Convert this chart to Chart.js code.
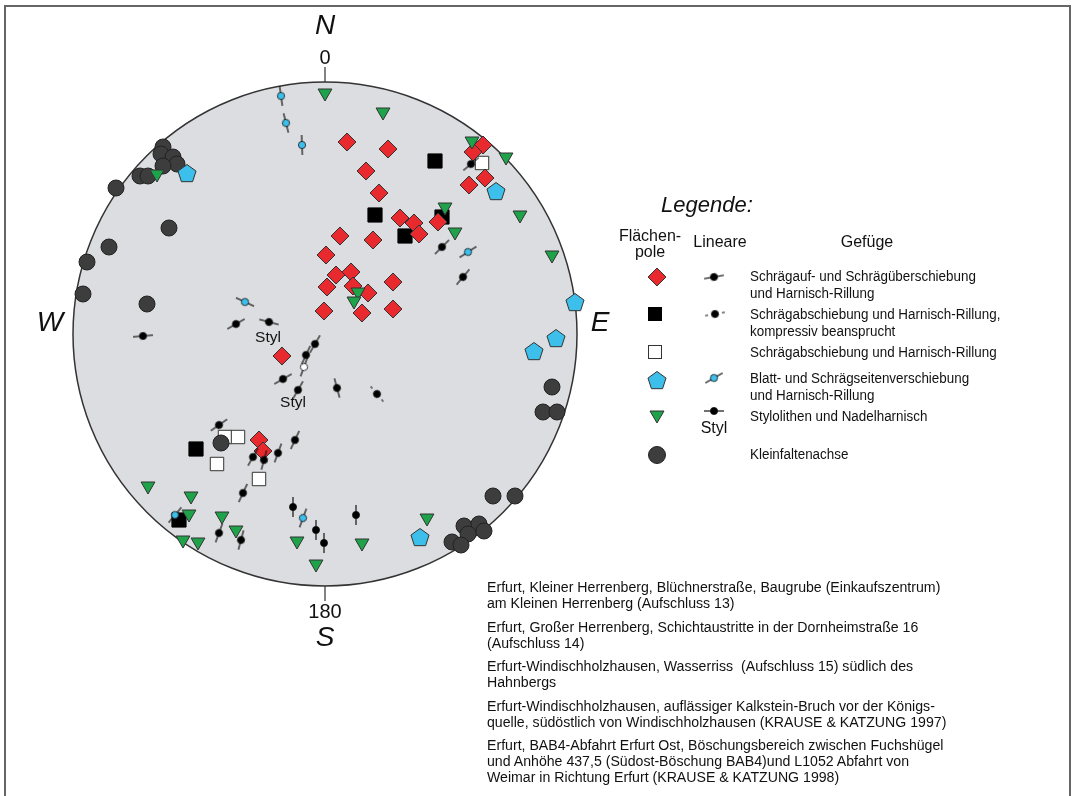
<!DOCTYPE html>
<html>
<head>
<meta charset="utf-8">
<script src="https://cdn.jsdelivr.net/npm/chart.js@4.4.1/dist/chart.umd.min.js"></script>
<style>
  body { margin: 0; background: #fff; font-family: "Liberation Sans", Arial, sans-serif; color: #111; }
  #wrap { position: relative; width: 1072px; height: 796px; overflow: hidden; }
  #net { position: absolute; left: 0; top: 0; }
  #frame { position: absolute; left: 4px; top: 5px; width: 1067px; height: 820px; box-sizing: border-box; border: 2px solid #666; }
  .t { position: absolute; white-space: nowrap; line-height: 1; }
  .c { transform: translate(-50%, -50%); }
  .it { font-style: italic; }
  .lg { position: absolute; white-space: nowrap; font-size: 15.5px; line-height: 16.5px; transform: scaleX(0.865); transform-origin: 0 0; }
  .ds { position: absolute; white-space: nowrap; font-size: 15.5px; line-height: 16px; transform: scaleX(0.912); transform-origin: 0 0; }
</style>
</head>
<body>
<div id="wrap">
  <canvas id="net" width="1072" height="796"></canvas>
  <div id="frame"></div>

  <div class="t c it" style="left:325px;top:25px;font-size:28px">N</div>
  <div class="t c" style="left:325px;top:57px;font-size:20px">0</div>
  <div class="t c" style="left:325px;top:611px;font-size:20px">180</div>
  <div class="t c it" style="left:325px;top:637px;font-size:28px">S</div>
  <div class="t c it" style="left:50px;top:322px;font-size:28px">W</div>
  <div class="t c it" style="left:600px;top:322px;font-size:28px">E</div>
  <div class="t c" style="left:268px;top:337px;font-size:15.5px">Styl</div>
  <div class="t c" style="left:293px;top:402px;font-size:15.5px">Styl</div>

  <div class="t c it" style="left:707px;top:205px;font-size:22px">Legende:</div>
  <div class="t c" style="left:650px;top:236px;font-size:16px">Flächen-</div>
  <div class="t c" style="left:650px;top:252px;font-size:16px">pole</div>
  <div class="t c" style="left:720px;top:242px;font-size:16px">Lineare</div>
  <div class="t c" style="left:867px;top:242px;font-size:16px">Gefüge</div>
  <div class="t c" style="left:714px;top:428px;font-size:16px">Styl</div>

  <div class="lg" style="left:750px;top:268px">Schrägauf- und Schrägüberschiebung<br>und Harnisch-Rillung</div>
  <div class="lg" style="left:750px;top:306px">Schrägabschiebung und Harnisch-Rillung,<br>kompressiv beansprucht</div>
  <div class="lg" style="left:750px;top:344px">Schrägabschiebung und Harnisch-Rillung</div>
  <div class="lg" style="left:750px;top:370px">Blatt- und Schrägseitenverschiebung<br>und Harnisch-Rillung</div>
  <div class="lg" style="left:750px;top:408px">Stylolithen und Nadelharnisch</div>
  <div class="lg" style="left:750px;top:446px">Kleinfaltenachse</div>

  <div class="ds" style="left:487px;top:579px">Erfurt, Kleiner Herrenberg, Blüchnerstraße, Baugrube (Einkaufszentrum)<br>am Kleinen Herrenberg (Aufschluss 13)</div>
  <div class="ds" style="left:487px;top:619px">Erfurt, Großer Herrenberg, Schichtaustritte in der Dornheimstraße 16<br>(Aufschluss 14)</div>
  <div class="ds" style="left:487px;top:658px">Erfurt-Windischholzhausen, Wasserriss&nbsp; (Aufschluss 15) südlich des<br>Hahnbergs</div>
  <div class="ds" style="left:487px;top:698px">Erfurt-Windischholzhausen, auflässiger Kalkstein-Bruch vor der Königs-<br>quelle, südöstlich von Windischholzhausen (KRAUSE &amp; KATZUNG 1997)</div>
  <div class="ds" style="left:487px;top:737px">Erfurt, BAB4-Abfahrt Erfurt Ost, Böschungsbereich zwischen Fuchshügel<br>und Anhöhe 437,5 (Südost-Böschung BAB4)und L1052 Abfahrt von<br>Weimar in Richtung Erfurt (KRAUSE &amp; KATZUNG 1998)</div>
</div>

<script>
// Netzradius in Datenkoordinaten (Mittelpunkt = 0,0; Norden = +y)
const NET_RADIUS = 252;

// Flächenpole [x, y]
const thrustPoles = [[22,192],[63,185],[41,163],[54,141],[75,116],[89,111],[94,100],[113,112],
  [15,98],[48,94],[1,79],[11,59],[26,62],[2,47],[28,48],[43,41],[-1,23],[37,21],[68,52],[68,25],
  [-43,-22],[-66,-106],[-62,-117],[158,189],[148,182],[160,156],[144,149]];
const normalCompPoles = [[110,173],[50,119],[117,117],[80,98],[-129,-115],[-146,-186]];
const normalPoles = [[157,171],[-100,-103],[-87,-103],[-108,-130],[-66,-145]];
const strikeSlipPoles = [[-138,161],[171,143],[250,32],[231,-4],[209,-17],[95,-203]];
const styloPoles = [[0,241],[58,222],[-168,160],[147,193],[181,177],[120,127],[130,102],[195,119],
  [227,79],[33,42],[29,33],[-177,-152],[-134,-162],[-136,-180],[-103,-182],[-89,-196],[-142,-206],
  [-127,-208],[-28,-207],[-9,-230],[37,-209],[102,-184]];
const foldAxes = [[-162,187],[-164,180],[-152,177],[-148,170],[-162,168],[-185,158],[-177,158],
  [-209,146],[-156,106],[-216,87],[-238,72],[-242,40],[-178,30],[-104,-109],[227,-53],[218,-78],
  [232,-78],[168,-162],[190,-162],[139,-192],[154,-190],[159,-197],[143,-200],[127,-208],[136,-211]];

// Lineare [x, y, Richtung in Grad]
const thrustLin = [[-89,10,-30],[-182,-2,-5],[-10,-10,-60],[-19,-21,-65],[-42,-45,-30],[-106,-91,-35],
  [-72,-123,-60],[-61,-126,-75],[-47,-119,-70],[-30,-106,-65],[-82,-159,-65],[-106,-199,-70],
  [-84,-206,-75],[-32,-173,90],[-9,-196,90],[-1,-209,90],[12,-54,75],[31,-181,90],[117,87,-45],
  [138,57,-50],[146,170,-40]];
const normalCompLin = [[52,-60,50]];
const normalLin = [[-21,-33,-70]];
const strikeSlipLin = [[-44,238,82],[-39,211,76],[-23,189,88],[-80,32,25],[143,82,-33],[-150,-181,-50],[-22,-184,-70]];
const styloLin = [[-56,12,15],[-27,-56,-60]];

const RED = '#e8292d', GREEN = '#1fa34a', BLUE = '#3dbfeb', DARK = '#3d3d3d', EDGE = '#333';

function lineationImg(fill, dashed) {
  const c = document.createElement('canvas');
  c.width = 22; c.height = 10;
  const g = c.getContext('2d');
  g.strokeStyle = '#111'; g.lineWidth = 1.2;
  g.beginPath();
  if (dashed) { g.moveTo(1,5); g.lineTo(4,5); g.moveTo(18,5); g.lineTo(21,5); }
  else { g.moveTo(1,5); g.lineTo(21,5); }
  g.stroke();
  g.beginPath(); g.arc(11,5,3.6,0,Math.PI*2);
  g.fillStyle = fill; g.fill(); g.lineWidth = 0.8; g.stroke();
  return c;
}
function pentagonImg() {
  const c = document.createElement('canvas');
  c.width = 22; c.height = 22;
  const g = c.getContext('2d');
  g.beginPath();
  for (let i = 0; i < 5; i++) {
    const a = -Math.PI/2 + i*2*Math.PI/5;
    const px = 11 + 9.5*Math.cos(a), py = 12 + 9.5*Math.sin(a);
    i ? g.lineTo(px,py) : g.moveTo(px,py);
  }
  g.closePath(); g.fillStyle = BLUE; g.fill();
  g.strokeStyle = EDGE; g.lineWidth = 1; g.stroke();
  return c;
}

const linBlack = lineationImg('#000', false);
const linDash = lineationImg('#000', true);
const linBlue = lineationImg(BLUE, false);
const linWhite = lineationImg('#fff', false);
const penta = pentagonImg();

const pts = a => a.map(p => ({x: p[0], y: p[1]}));
const rots = a => a.map(p => p[2]);

function linSet(arr, img) {
  return { data: pts(arr), pointStyle: img, pointRadius: 5, pointRotation: rots(arr) };
}

const netPlugin = {
  id: 'net',
  beforeDatasetsDraw(chart) {
    const {ctx, scales: {x, y}} = chart;
    const cx = x.getPixelForValue(0), cy = y.getPixelForValue(0);
    const r = x.getPixelForValue(NET_RADIUS) - cx;
    ctx.save();
    ctx.beginPath(); ctx.arc(cx, cy, r, 0, Math.PI*2);
    ctx.fillStyle = '#dcdde0'; ctx.fill();
    ctx.strokeStyle = '#333'; ctx.lineWidth = 1.5; ctx.stroke();
    ctx.lineWidth = 1.2;
    ctx.beginPath();
    ctx.moveTo(cx, cy - r); ctx.lineTo(cx, cy - r - 15);
    ctx.moveTo(cx, cy + r); ctx.lineTo(cx, cy + r + 15);
    ctx.stroke();
    ctx.restore();
  },
  afterDraw(chart) {
    // Legendensymbole
    const ctx = chart.ctx;
    ctx.save();
    ctx.lineWidth = 1; ctx.strokeStyle = EDGE;
    ctx.beginPath(); ctx.moveTo(657,268); ctx.lineTo(666,277); ctx.lineTo(657,286); ctx.lineTo(648,277); ctx.closePath();
    ctx.fillStyle = RED; ctx.fill(); ctx.stroke();
    ctx.fillStyle = '#000'; ctx.fillRect(648,307,14,14);
    ctx.fillStyle = '#fff'; ctx.fillRect(648,345,14,14); ctx.strokeRect(648.5,345.5,13,13);
    ctx.drawImage(penta, 646, 369);
    ctx.beginPath(); ctx.moveTo(650,411); ctx.lineTo(664,411); ctx.lineTo(657,423); ctx.closePath();
    ctx.fillStyle = GREEN; ctx.fill(); ctx.stroke();
    ctx.beginPath(); ctx.arc(657,455,8.5,0,Math.PI*2); ctx.fillStyle = DARK; ctx.fill(); ctx.strokeStyle = '#222'; ctx.stroke();
    const lin = (img, x0, y0, deg) => {
      ctx.save(); ctx.translate(x0, y0); ctx.rotate(deg*Math.PI/180);
      ctx.drawImage(img, -11, -5); ctx.restore();
    };
    lin(linBlack, 714, 277, -10);
    lin(linDash, 715, 314, -10);
    lin(linBlue, 714, 378, -30);
    lin(linBlack, 714, 411, 0);
    ctx.restore();
  }
};

new Chart(document.getElementById('net'), {
  type: 'scatter',
  data: {
    datasets: [
      linSet(thrustLin, linBlack),
      linSet(normalCompLin, linDash),
      linSet(normalLin, linWhite),
      linSet(strikeSlipLin, linBlue),
      linSet(styloLin, linBlack),
      { data: pts(styloPoles), pointStyle: 'triangle', pointRotation: 180, pointRadius: 8,
        backgroundColor: GREEN, borderColor: EDGE, borderWidth: 1 },
      { data: pts(strikeSlipPoles), pointStyle: penta, pointRadius: 9 },
      { data: pts(thrustPoles), pointStyle: 'rectRot', pointRadius: 9,
        backgroundColor: RED, borderColor: EDGE, borderWidth: 1 },
      { data: pts(foldAxes), pointStyle: 'circle', pointRadius: 8,
        backgroundColor: DARK, borderColor: '#222', borderWidth: 1 },
      { data: pts(normalPoles), pointStyle: 'rect', pointRadius: 9.5,
        backgroundColor: '#fff', borderColor: EDGE, borderWidth: 1 },
      { data: pts(normalCompPoles), pointStyle: 'rect', pointRadius: 10,
        backgroundColor: '#000', borderColor: '#000', borderWidth: 1 }
    ]
  },
  options: {
    responsive: false,
    devicePixelRatio: 1,
    animation: false,
    events: [],
    layout: { padding: 0, autoPadding: false },
    scales: {
      x: { type: 'linear', min: -325, max: 747, display: false },
      y: { type: 'linear', min: -462, max: 334, display: false }
    },
    plugins: { legend: { display: false }, tooltip: { enabled: false } }
  },
  plugins: [netPlugin]
});
</script>
</body>
</html>
